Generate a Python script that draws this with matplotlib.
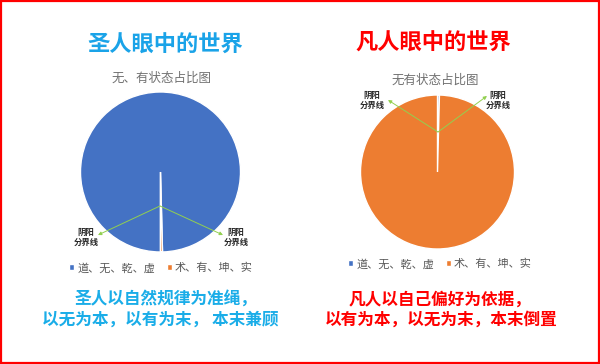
import matplotlib
matplotlib.use("Agg")
import matplotlib.pyplot as plt
from matplotlib.patches import Rectangle, FancyArrowPatch

plt.rcParams['font.family'] = ['Noto Sans CJK SC', 'DejaVu Sans']

# data
labels = ["道、无、乾、虚", "术、有、坤、实"]
sage_values = [99.6, 0.4]
common_values = [0.4, 99.6]
colors = ["#4472C4", "#ED7D31"]

W, H = 600, 364


def fx(x):
    return x / W


def fy(y):
    return 1 - y / H


fig = plt.figure(figsize=(6, 3.64), dpi=100)
fig.patch.set_facecolor("white")

# red frame
fig.patches.append(Rectangle((0.002, 0.003), 0.996, 0.994, transform=fig.transFigure,
                             fill=False, edgecolor="#FF0000", linewidth=1.6))


def draw_pie(cx, cy, r, values, startangle):
    ax = fig.add_axes([fx(cx - r), fy(cy + r), 2 * r / W, 2 * r / H])
    wedges, _ = ax.pie(values, colors=colors, startangle=startangle, counterclock=False,
                       radius=1, wedgeprops=dict(edgecolor="white", linewidth=1.0))
    ax.set_xlim(-1, 1)
    ax.set_ylim(-1, 1)
    ax.set_aspect("auto")
    ax.axis("off")
    return wedges


wl = draw_pie(160.5, 172, 80, sage_values, -90)
wr = draw_pie(437.5, 172, 77, common_values, 90)

# titles
fig.text(fx(165), fy(45), "圣人眼中的世界", color="#1AA3E8", fontsize=16,
         fontweight="bold", ha="center", va="center")
fig.text(fx(433), fy(43), "凡人眼中的世界", color="#FF0000", fontsize=16,
         fontweight="bold", ha="center", va="center")
fig.text(fx(162), fy(78), "无、有状态占比图", color="#707070", fontsize=9,
         ha="center", va="center")
fig.text(fx(435), fy(80), "无有状态占比图", color="#707070", fontsize=9,
         ha="center", va="center")

# legends
for handles, cx, cy in [(wl, 161, 268), (wr, 440, 264)]:
    fig.legend(handles, labels, loc="center", bbox_to_anchor=(fx(cx), fy(cy)), ncol=2,
               frameon=False, fontsize=8, labelcolor="#595959", handlelength=0.45,
               handleheight=0.45, handletextpad=0.3, columnspacing=1.0)

# yin-yang boundary annotations
notes = [((160, 206), (98, 235), (86, 237)),
         ((160, 206), (223, 235), (236, 237)),
         ((438, 132), (388, 100), (372, 100)),
         ((438, 132), (487, 96), (498, 100))]
for start, tip, lab in notes:
    fig.add_artist(FancyArrowPatch(
        (fx(start[0]), fy(start[1])), (fx(tip[0]), fy(tip[1])),
        transform=fig.transFigure, arrowstyle="-|>", color="#92D050", lw=0.7,
        mutation_scale=5, shrinkA=0, shrinkB=0))
    fig.text(fx(lab[0]), fy(lab[1]), "阴阳\n分界线", fontsize=6, fontweight="bold",
             color="#262626", ha="center", va="center", linespacing=1.15)

# bottom captions
cap = dict(fontsize=12, fontweight="bold", ha="center", va="center")
fig.text(fx(166), fy(300), "圣人以自然规律为准绳，", color="#1AADE8", **cap)
fig.text(fx(160), fy(320), "以无为本，以有为末， 本末兼顾", color="#1AADE8", **cap)
fig.text(fx(440), fy(300), "凡人以自己偏好为依据，", color="#FF0000", **cap)
fig.text(fx(441), fy(320), "以有为本，以无为末，本末倒置", color="#FF0000", **cap)

fig.savefig("out.png", dpi=100)
